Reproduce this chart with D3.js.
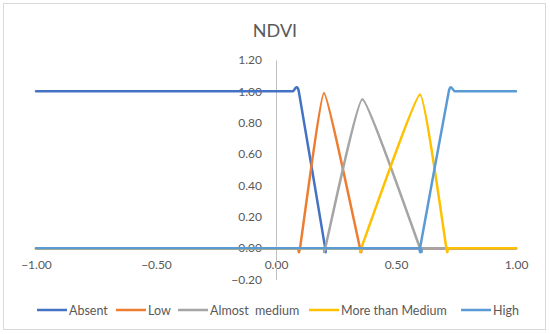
<!DOCTYPE html>
<html><head><meta charset="utf-8">
<script src="https://cdn.jsdelivr.net/npm/d3@7"></script>
<style>body{margin:0;background:#fff;} svg{display:block;font-family:Lato,"Open Sans",sans-serif;}</style>
</head><body>
<svg id="c" width="550" height="334"></svg>
<script>
const title = "NDVI";
const seriesNames = ["Absent", "Low", "Almost  medium", "More than Medium", "High"];
const seriesColors = ["#4472C4", "#ED7D31", "#A5A5A5", "#FFC000", "#5B9BD5"];
const absentX = [-1, 0, 0.07, 0.095, 0.205, 0.215, 0.5, 1];
const absentY = [1, 1, 1, 1, 0, 0, 0, 0];
const lowX = [-1, 0, 0.09, 0.1, 0.2, 0.35, 0.36, 0.5, 1];
const lowY = [0, 0, 0, 0, 0.99, 0, 0, 0, 0];
const almostX = [-1, 0, 0.195, 0.205, 0.36, 0.6, 0.61, 0.8, 1];
const almostY = [0, 0, 0, 0, 0.95, 0, 0, 0, 0];
const moreX = [-1, 0, 0.345, 0.355, 0.6, 0.71, 0.72, 0.85, 1];
const moreY = [0, 0, 0, 0, 0.98, 0, 0, 0, 0];
const highX = [-1, 0, 0.59, 0.6, 0.72, 0.745, 0.85, 1];
const highY = [0, 0, 0, 0, 1, 1, 1, 1];
const xTicks = [-1, -0.5, 0, 0.5, 1];
const yTicks = [-0.2, 0, 0.2, 0.4, 0.6, 0.8, 1.0, 1.2];

const seriesX = [absentX, lowX, almostX, moreX, highX];
const seriesY = [absentY, lowY, almostY, moreY, highY];

const svg = d3.select("#c");
svg.append("rect").attr("x", 3.5).attr("y", 3.5).attr("width", 542).attr("height", 326)
  .attr("fill", "#fff").attr("stroke", "#D9D9D9").attr("stroke-width", 1);

const x = d3.scaleLinear().domain([-1, 1]).range([36, 516]);
const y = d3.scaleLinear().domain([-0.2, 1.2]).range([279.5, 60]);

svg.append("text").attr("x", 275).attr("y", 37).attr("text-anchor", "middle")
  .attr("font-size", 18).attr("fill", "#595959").text(title);

// x axis at y=0
const xAxis = svg.append("g").attr("transform", `translate(0,${y(0)})`)
  .call(d3.axisBottom(x).tickValues(xTicks).tickSize(0).tickFormat(d3.format(".2f")));
xAxis.select(".domain").attr("stroke", "#D9D9D9").attr("stroke-width", 1);
xAxis.selectAll("text").attr("font-size", 12).attr("fill", "#595959")
  .attr("dy", null).attr("y", 21).attr("font-family", "Lato, 'Open Sans', sans-serif");

// y axis at x=0
const yAxis = svg.append("g").attr("transform", `translate(${x(0)},0)`)
  .call(d3.axisLeft(y).tickValues(yTicks).tickSize(0).tickFormat(d3.format(".2f")));
yAxis.select(".domain").attr("stroke", "#BFBFBF").attr("stroke-width", 1);
yAxis.selectAll("text").attr("font-size", 12).attr("fill", "#595959")
  .attr("x", -14).attr("font-family", "Lato, 'Open Sans', sans-serif");

const line = d3.line().x(d => x(d[0])).y(d => y(d[1])).curve(d3.curveCardinal.tension(0.65));
seriesNames.forEach((name, i) => {
  const pts = seriesX[i].map((v, j) => [v, seriesY[i][j]]);
  svg.append("path").attr("d", line(pts)).attr("fill", "none")
    .attr("stroke", seriesColors[i]).attr("stroke-width", 2.5)
    .attr("stroke-linejoin", "round").attr("stroke-linecap", "round");
});

// legend
const legendX = [37, 116, 178, 309, 461];
const lg = svg.append("g");
seriesNames.forEach((name, i) => {
  const g = lg.append("g").attr("transform", `translate(${legendX[i]},310)`);
  g.append("line").attr("x1", 0).attr("x2", 30).attr("y1", 0).attr("y2", 0)
    .attr("stroke", seriesColors[i]).attr("stroke-width", 2.5);
  g.append("text").attr("x", 32).attr("y", 4.5).attr("font-size", 12.5)
    .attr("fill", "#595959").style("white-space", "pre").text(name);
});
</script>
</body></html>
